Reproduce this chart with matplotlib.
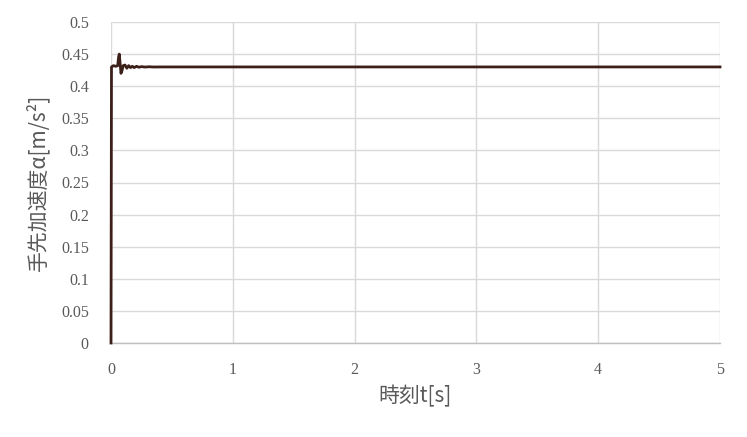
import matplotlib
matplotlib.use("Agg")
import matplotlib.pyplot as plt

t = [0, 0.004, 0.02, 0.04, 0.055, 0.062, 0.068, 0.075, 0.082, 0.09, 0.1, 0.115, 0.13, 0.145,
     0.16, 0.175, 0.19, 0.21, 0.23, 0.25, 0.28, 0.31, 0.35, 0.4, 5.0]
accel = [0, 0.43, 0.432, 0.431, 0.432, 0.445, 0.45, 0.435, 0.42, 0.424, 0.432, 0.433, 0.428,
         0.432, 0.429, 0.431, 0.429, 0.431, 0.4295, 0.4305, 0.4298, 0.4303, 0.4299, 0.43, 0.43]
xticks = [0, 1, 2, 3, 4, 5]
yticks = [0, 0.05, 0.1, 0.15, 0.2, 0.25, 0.3, 0.35, 0.4, 0.45, 0.5]
ytick_labels = ["0", "0.05", "0.1", "0.15", "0.2", "0.25", "0.3", "0.35", "0.4", "0.45", "0.5"]

fig = plt.figure(figsize=(7.47, 4.37), dpi=100)
ax = fig.add_axes([111/747, 94/437, 609/747, 321/437])
ax.plot(t, accel, color="#3d1f1a", lw=2.0, zorder=3, clip_on=False)
ax.set_xlim(0, 5)
ax.set_ylim(0, 0.5)
ax.set_xticks(xticks)
ax.set_yticks(yticks)
ax.set_yticklabels(ytick_labels)
ax.grid(True, color="#d9d9d9", lw=1.0)
for s in ["top", "right", "left"]:
    ax.spines[s].set_visible(False)
ax.spines["bottom"].set_color("#bfbfbf")
ax.spines["bottom"].set_linewidth(1.0)
ax.tick_params(length=0, colors="#595959", labelsize=11.5)
ax.tick_params(axis="y", pad=16)
ax.tick_params(axis="x", pad=14)
for lab in ax.get_xticklabels() + ax.get_yticklabels():
    lab.set_family(["Liberation Serif", "DejaVu Serif"])
jp = ["Noto Sans CJK JP", "DejaVu Sans"]
ax.set_xlabel("時刻t[s]", family=jp, fontsize=15, color="#595959", labelpad=5)
ax.set_ylabel("手先加速度α[m/s²]", family=jp, fontsize=15, color="#595959", labelpad=8)
fig.savefig("out.png", dpi=100)
